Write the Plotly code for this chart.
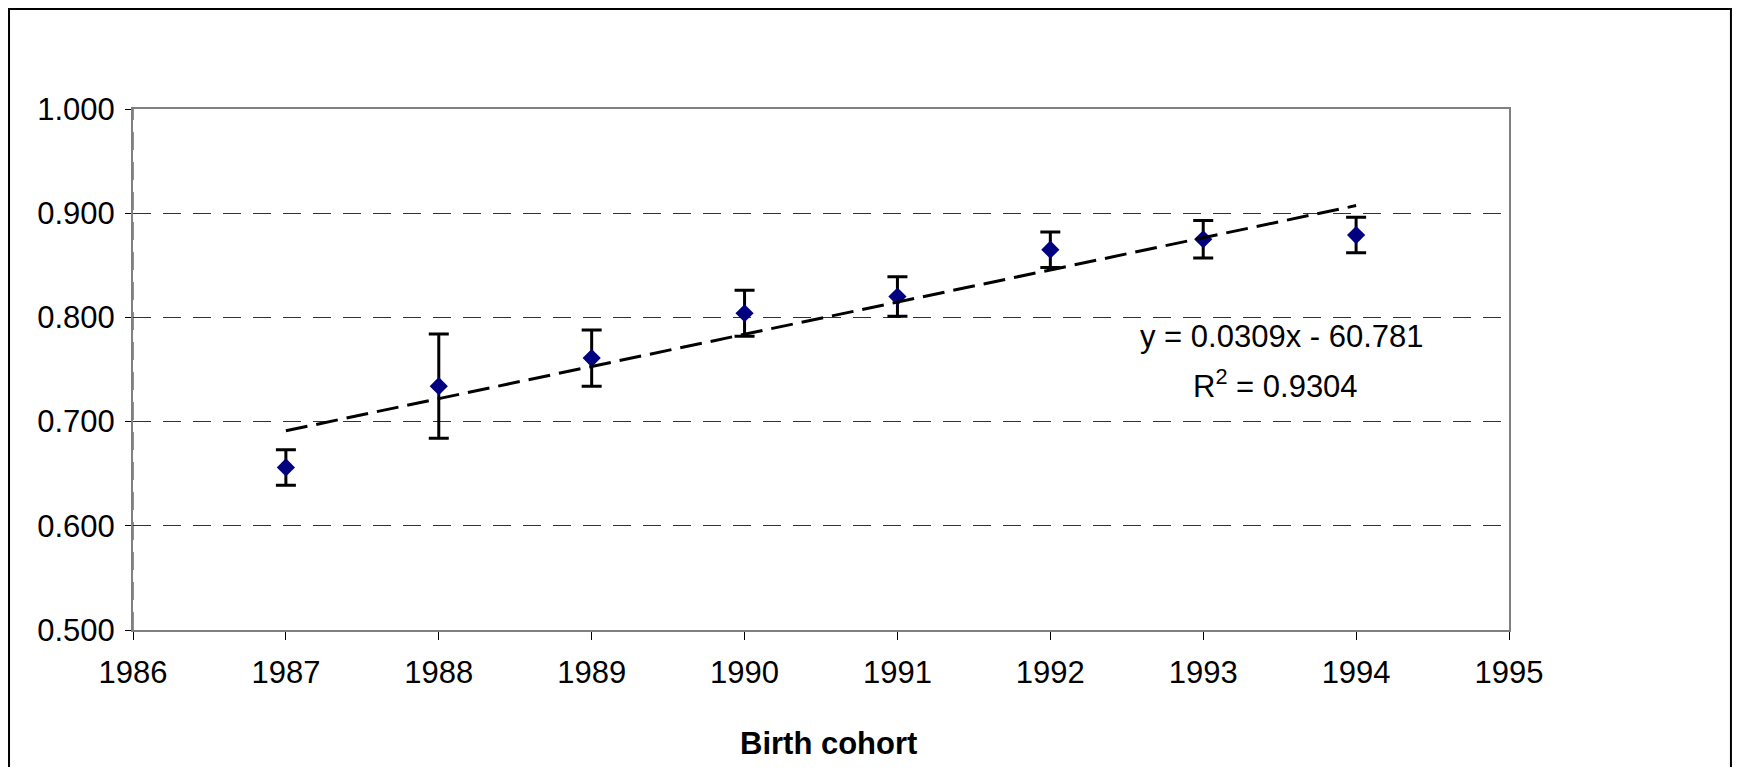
import numpy as np
import plotly.graph_objects as go

# Data
cohorts = [1987, 1988, 1989, 1990, 1991, 1992, 1993, 1994]
values = [0.656, 0.734, 0.761, 0.804, 0.820, 0.865, 0.875, 0.879]
errors = [0.017, 0.050, 0.027, 0.022, 0.019, 0.017, 0.018, 0.017]
x_ticks = [1986, 1987, 1988, 1989, 1990, 1991, 1992, 1993, 1994, 1995]
y_ticks = [0.5, 0.6, 0.7, 0.8, 0.9, 1.0]
eq_text = "y = 0.0309x - 60.781"
r2_text = "R<sup>2</sup> = 0.9304"
x_title = "Birth cohort"

# Linear trend fitted to the data (as Excel trendline)
slope, intercept = np.polyfit(cohorts, values, 1)
trend_x = [cohorts[0], cohorts[-1]]
trend_y = [slope * v + intercept for v in trend_x]

FONT = "Liberation Sans, Arial, sans-serif"

fig = go.Figure()
fig.add_trace(go.Scatter(
    x=cohorts, y=values, mode="markers",
    marker=dict(symbol="diamond", size=14, color="#000080", line=dict(width=0)),
    error_y=dict(type="data", array=errors, visible=True,
                 color="black", thickness=3, width=10),
    showlegend=False,
))
fig.add_trace(go.Scatter(
    x=trend_x, y=trend_y, mode="lines",
    line=dict(color="black", width=3, dash="22px,9px"),
    showlegend=False,
))

# page body has an 8px default margin: figure sized to fit inside it
fig.update_layout(
    width=1724, height=759,
    margin=dict(l=125, r=223, t=101, b=137),
    paper_bgcolor="white", plot_bgcolor="white",
    font=dict(family=FONT, color="black"),
    showlegend=False,
)
fig.update_xaxes(
    range=[1986, 1995], tickvals=x_ticks, ticktext=[str(v) for v in x_ticks],
    showgrid=False, zeroline=False,
    showline=True, linecolor="#808080", linewidth=2, mirror=True,
    ticks="outside", ticklen=8, tickcolor="black", tickwidth=1,
    ticklabelstandoff=6,
    tickfont=dict(size=31, family=FONT, color="black"),
)
fig.update_yaxes(
    range=[0.5, 1.0], tickvals=y_ticks, tickformat=".3f",
    showgrid=True, gridcolor="#333333", gridwidth=1, griddash="18px,12px",
    zeroline=False,
    showline=True, linecolor="#808080", linewidth=2, mirror=True,
    ticks="outside", ticklen=6, tickcolor="black", tickwidth=1,
    ticklabelstandoff=4,
    tickfont=dict(size=31, family=FONT, color="black"),
)

fig.add_annotation(x=1993.518, y=0.7815, xref="x", yref="y", text=eq_text,
                   showarrow=False, xanchor="center", yanchor="middle",
                   font=dict(size=31, family=FONT, color="black"))
fig.add_annotation(x=1993.473, y=0.7361, xref="x", yref="y", text=r2_text,
                   showarrow=False, xanchor="center", yanchor="middle",
                   font=dict(size=31, family=FONT, color="black"))
fig.add_annotation(x=0.5056, y=-0.2169, xref="paper", yref="paper",
                   text="<b>" + x_title + "</b>", showarrow=False,
                   xanchor="center", yanchor="middle",
                   font=dict(size=31, family=FONT, color="black"))

# Dashed overlay on the left axis line (as in the original)
fig.add_shape(type="line", xref="x", yref="paper", x0=1986, x1=1986, y0=0, y1=1,
              line=dict(color="#222222", width=1, dash="18px,12px"), layer="above")

# Outer chart border
fig.add_shape(type="rect", xref="paper", yref="paper",
              x0=-0.0901, x1=1.1613, y0=-0.30, y1=1.1919,
              line=dict(color="black", width=2), layer="below")

fig.write_html("out.html")
